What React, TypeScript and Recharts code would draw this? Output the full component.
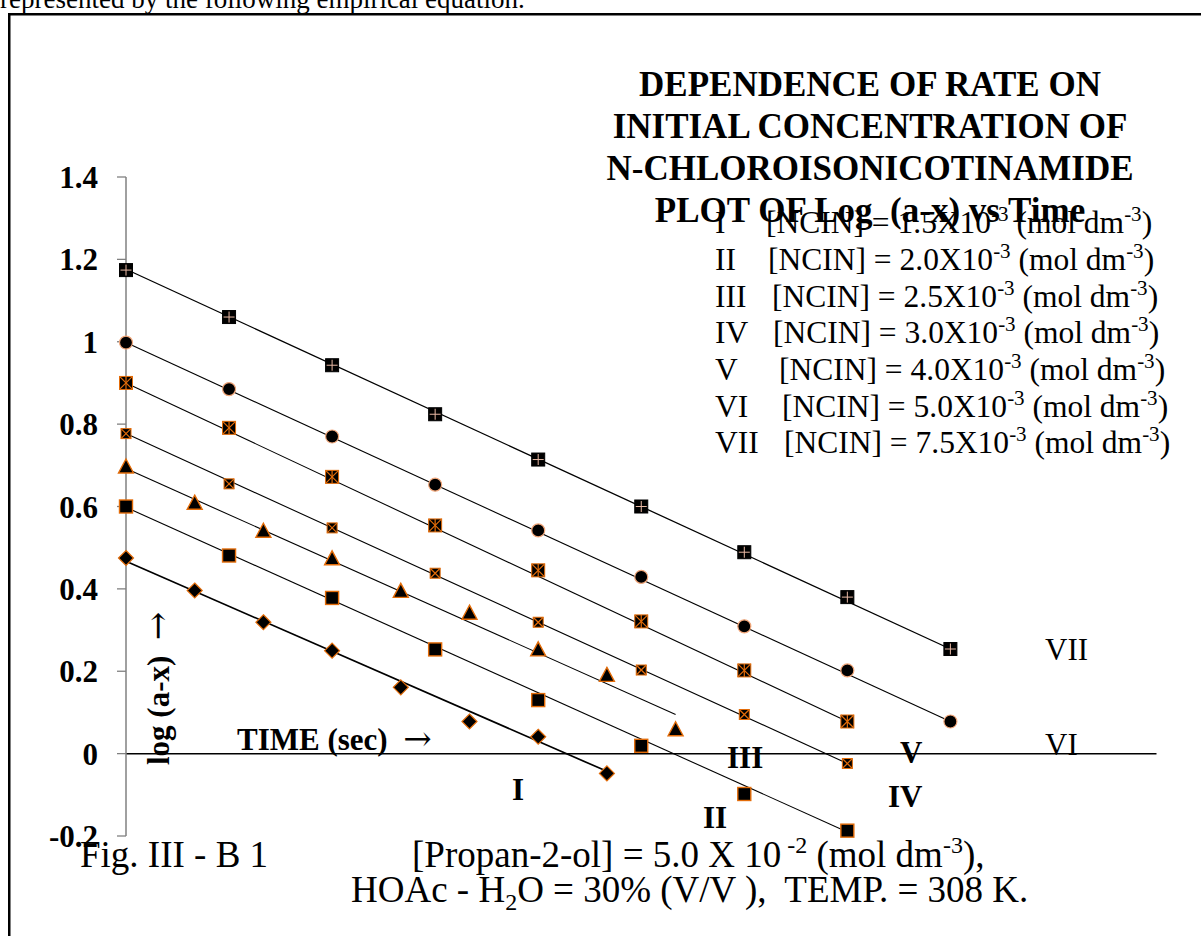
import React from 'react';
import { ComposedChart, XAxis, YAxis, Scatter, ReferenceLine } from 'recharts';

// ---------- data ----------
const TIME_I = [0, 600, 1200, 1800, 2400, 3000, 3600, 4200];
const LOG_I = [0.475, 0.396, 0.319, 0.25, 0.161, 0.078, 0.041, -0.048];
const TIME_II = [0, 900, 1800, 2700, 3600, 4500, 5400, 6300];
const LOG_II = [0.6, 0.481, 0.378, 0.253, 0.13, 0.019, -0.098, -0.187];
const TIME_III = [0, 600, 1200, 1800, 2400, 3000, 3600, 4200, 4800];
const LOG_III = [0.696, 0.608, 0.54, 0.473, 0.394, 0.341, 0.252, 0.19, 0.058];
const TIME_IV = [0, 900, 1800, 2700, 3600, 4500, 5400, 6300];
const LOG_IV = [0.777, 0.655, 0.548, 0.438, 0.319, 0.203, 0.095, -0.024];
const TIME_V = [0, 900, 1800, 2700, 3600, 4500, 5400, 6300];
const LOG_V = [0.9, 0.791, 0.672, 0.554, 0.445, 0.321, 0.202, 0.078];
const TIME_VI = [0, 900, 1800, 2700, 3600, 4500, 5400, 6300, 7200];
const LOG_VI = [0.998, 0.885, 0.77, 0.653, 0.542, 0.429, 0.309, 0.202, 0.078];
const TIME_VII = [0, 900, 1800, 2700, 3600, 4500, 5400, 6300, 7200];
const LOG_VII = [1.174, 1.06, 0.943, 0.824, 0.714, 0.6, 0.489, 0.38, 0.254];

// fitted straight lines (end points)
const FIT_TIME_I = [0, 4200];
const FIT_LOG_I = [0.467, -0.043];
const FIT_TIME_II = [0, 6300];
const FIT_LOG_II = [0.598, -0.19];
const FIT_TIME_III = [0, 4800];
const FIT_LOG_III = [0.692, 0.095];
const FIT_TIME_IV = [0, 6300];
const FIT_LOG_IV = [0.777, -0.024];
const FIT_TIME_V = [0, 6300];
const FIT_LOG_V = [0.9, 0.078];
const FIT_TIME_VI = [0, 7200];
const FIT_LOG_VI = [0.998, 0.078];
const FIT_TIME_VII = [0, 7200];
const FIT_LOG_VII = [1.176, 0.254];

const X_TICKS = [0, 2000, 4000, 6000, 8000];
const X_TICK_LABELS = ['0', '2000', '4000', '6000', '8000'];
const Y_TICKS = [-0.2, 0, 0.2, 0.4, 0.6, 0.8, 1, 1.2, 1.4];
const Y_TICK_LABELS = ['-0.2', '0', '0.2', '0.4', '0.6', '0.8', '1', '1.2', '1.4'];

const SERIES_NAMES = ['I', 'II', 'III', 'IV', 'V', 'VI', 'VII'];
const NCIN_CONC = ['1.5', '2.0', '2.5', '3.0', '4.0', '5.0', '7.5'];

const TITLE_LINES = [
  'DEPENDENCE OF RATE ON',
  'INITIAL CONCENTRATION OF',
  'N-CHLOROISONICOTINAMIDE',
  'PLOT OF Log\u00A0 (a-x) vs Time',
];

// ---------- layout / style ----------
const W = 1201;
const H = 936;
const PLOT_LEFT = 126;
const PLOT_RIGHT = 1156.5;
const PLOT_TOP = 177;
const PLOT_BOTTOM = 836;
const Y_MIN = -0.2;
const Y_MAX = 1.4;
const ZERO_Y = PLOT_TOP + ((Y_MAX - 0) / (Y_MAX - Y_MIN)) * (PLOT_BOTTOM - PLOT_TOP);
const FONT = "'Liberation Serif', 'Times New Roman', Times, serif";
const ARROW_FONT = "'DejaVu Serif', 'DejaVu Sans', serif";
const ORANGE = '#E36C09';
const LIGHT = '#F2A77A';
const AXIS_GRAY = '#808080';

const rows = (ts: number[], vs: number[]) => ts.map((t, i) => ({ t, v: vs[i] }));

// ---------- marker shapes ----------
const Diamond = (p: any) => {
  const { cx, cy } = p;
  const r = 7.5;
  return <polygon points={`${cx},${cy - r} ${cx + r},${cy} ${cx},${cy + r} ${cx - r},${cy}`} fill="#000" stroke={ORANGE} strokeWidth={1.2} />;
};
const SquareM = (p: any) => {
  const { cx, cy } = p;
  const s = 13;
  return <rect x={cx - s / 2} y={cy - s / 2} width={s} height={s} fill="#000" stroke={ORANGE} strokeWidth={1.4} />;
};
const Triangle = (p: any) => {
  const { cx, cy } = p;
  return <polygon points={`${cx},${cy - 8} ${cx + 7.5},${cy + 6} ${cx - 7.5},${cy + 6}`} fill="#000" stroke={ORANGE} strokeWidth={1.4} />;
};
const XSquare = (p: any) => {
  const { cx, cy } = p;
  const s = 10;
  const h = s / 2;
  return (
    <g>
      <rect x={cx - h} y={cy - h} width={s} height={s} fill="#000" stroke={ORANGE} strokeWidth={1} />
      <line x1={cx - h} y1={cy - h} x2={cx + h} y2={cy + h} stroke={ORANGE} strokeWidth={1.2} />
      <line x1={cx - h} y1={cy + h} x2={cx + h} y2={cy - h} stroke={ORANGE} strokeWidth={1.2} />
    </g>
  );
};
const StarSquare = (p: any) => {
  const { cx, cy } = p;
  const s = 13;
  const h = s / 2;
  return (
    <g>
      <rect x={cx - h} y={cy - h} width={s} height={s} fill="#000" stroke={ORANGE} strokeWidth={1} />
      <line x1={cx - h} y1={cy - h} x2={cx + h} y2={cy + h} stroke={ORANGE} strokeWidth={1.2} />
      <line x1={cx - h} y1={cy + h} x2={cx + h} y2={cy - h} stroke={ORANGE} strokeWidth={1.2} />
      <line x1={cx} y1={cy - h} x2={cx} y2={cy + h} stroke={ORANGE} strokeWidth={1.2} />
    </g>
  );
};
const Circle = (p: any) => {
  const { cx, cy } = p;
  return <circle cx={cx} cy={cy} r={6.5} fill="#000" stroke={LIGHT} strokeWidth={1.2} />;
};
const PlusSquare = (p: any) => {
  const { cx, cy } = p;
  const s = 13;
  const h = s / 2;
  return (
    <g>
      <rect x={cx - h} y={cy - h} width={s} height={s} fill="#000" stroke="#000" strokeWidth={1} />
      <line x1={cx} y1={cy - h + 1} x2={cx} y2={cy + h - 1} stroke="#E9B9A4" strokeWidth={1} />
      <line x1={cx - h + 1} y1={cy} x2={cx + h - 1} y2={cy} stroke="#E9B9A4" strokeWidth={1} />
    </g>
  );
};
const NoShape = () => <g />;

const XTick = (p: any) => {
  const { x, index } = p;
  return (
    <g>
      {index > 0 && <line x1={x} x2={x} y1={ZERO_Y} y2={ZERO_Y + 9} stroke={AXIS_GRAY} strokeWidth={1.3} />}
      <text x={x} y={ZERO_Y + 56} textAnchor="middle" fontFamily={FONT} fontWeight="bold" fontSize={31} fill="#000">
        {X_TICK_LABELS[index]}
      </text>
    </g>
  );
};

const SERIES = [
  { pts: rows(TIME_I, LOG_I), fit: rows(FIT_TIME_I, FIT_LOG_I), shape: Diamond, fw: 1.7 },
  { pts: rows(TIME_II, LOG_II), fit: rows(FIT_TIME_II, FIT_LOG_II), shape: SquareM, fw: 1.1 },
  { pts: rows(TIME_III, LOG_III), fit: rows(FIT_TIME_III, FIT_LOG_III), shape: Triangle, fw: 1.1 },
  { pts: rows(TIME_IV, LOG_IV), fit: rows(FIT_TIME_IV, FIT_LOG_IV), shape: XSquare, fw: 1.1 },
  { pts: rows(TIME_V, LOG_V), fit: rows(FIT_TIME_V, FIT_LOG_V), shape: StarSquare, fw: 1.1 },
  { pts: rows(TIME_VI, LOG_VI), fit: rows(FIT_TIME_VI, FIT_LOG_VI), shape: Circle, fw: 1.1 },
  { pts: rows(TIME_VII, LOG_VII), fit: rows(FIT_TIME_VII, FIT_LOG_VII), shape: PlusSquare, fw: 1.3 },
];

// text placements (layout only)
const LEGEND_ROMAN_X = 715;
const LEGEND_TEXT_X = [766, 768, 772, 773, 779, 782, 784];
const LEGEND_BASE = [233, 270, 307, 343, 380, 417, 453];
const SERIES_LABEL_POS = [
  { x: 512, y: 800, bold: true },
  { x: 703, y: 828, bold: true },
  { x: 727, y: 768, bold: true },
  { x: 888, y: 807, bold: true },
  { x: 900, y: 763, bold: true },
  { x: 1045, y: 755, bold: false },
  { x: 1045, y: 660, bold: false },
];
const TITLE_BASE = [96, 138, 180, 222];
const TITLE_CX = 870;

export default function App() {
  return (
    <div style={{ position: 'absolute', left: 0, top: 0, width: W, height: H, overflow: 'hidden', background: '#fff' }}>
      <div style={{ position: 'absolute', left: 0, top: 0 }}>
        <ComposedChart
          width={W}
          height={H}
          margin={{ top: PLOT_TOP, right: W - PLOT_RIGHT, bottom: H - PLOT_BOTTOM, left: PLOT_LEFT - 60 }}
        >
          <XAxis
            type="number"
            dataKey="t"
            domain={[0, 9000]}
            ticks={X_TICKS}
            interval={0}
            axisLine={false}
            tickLine={false}
            height={0}
            tick={<XTick />}
          />
          <YAxis
            type="number"
            dataKey="v"
            domain={[Y_MIN, Y_MAX]}
            ticks={Y_TICKS}
            interval={0}
            width={60}
            axisLine={{ stroke: AXIS_GRAY, strokeWidth: 1.5 }}
            tickLine={{ stroke: AXIS_GRAY, strokeWidth: 1.3 }}
            tickSize={9}
            tickMargin={19}
            tickFormatter={(v: number, i: number) => Y_TICK_LABELS[i]}
            tick={{ fill: '#000', fontFamily: FONT, fontWeight: 'bold', fontSize: 31 }}
          />
          <ReferenceLine y={0} stroke="#000" strokeWidth={1.5} />
          {SERIES.map((s, i) => (
            <Scatter
              key={'fit' + i}
              data={s.fit}
              dataKey="v"
              line={{ stroke: '#000', strokeWidth: s.fw }}
              shape={NoShape}
              isAnimationActive={false}
            />
          ))}
          {SERIES.map((s, i) => (
            <Scatter key={'pts' + i} data={s.pts} dataKey="v" shape={s.shape} isAnimationActive={false} />
          ))}
        </ComposedChart>
      </div>
      <svg
        width={W}
        height={H}
        style={{ position: 'absolute', left: 0, top: 0, pointerEvents: 'none' }}
        fontFamily={FONT}
      >
        <text x={0} y={8} fontSize={27} fill="#000">represented by the following empirical equation.</text>
        <rect x={9.25} y={14.25} width={1400} height={1000} fill="none" stroke="#000" strokeWidth={2.5} />

        {TITLE_LINES.map((t, i) => (
          <text key={t} x={TITLE_CX} y={TITLE_BASE[i]} textAnchor="middle" fontSize={35} fontWeight="bold" fill="#000">
            {t}
          </text>
        ))}

        {SERIES_NAMES.map((n, i) => (
          <g key={'lg' + n}>
            <text x={LEGEND_ROMAN_X} y={LEGEND_BASE[i]} fontSize={31.5} fill="#000">{n}</text>
            <text x={LEGEND_TEXT_X[i]} y={LEGEND_BASE[i]} fontSize={31.5} fill="#000">
              [NCIN] = {NCIN_CONC[i]}X10
              <tspan dy={-12} fontSize={21}>-3</tspan>
              <tspan dy={12}> (mol dm</tspan>
              <tspan dy={-12} fontSize={21}>-3</tspan>
              <tspan dy={12}>)</tspan>
            </text>
          </g>
        ))}

        {SERIES_NAMES.map((n, i) => (
          <text
            key={'sl' + n}
            x={SERIES_LABEL_POS[i].x}
            y={SERIES_LABEL_POS[i].y}
            fontSize={31}
            fontWeight={SERIES_LABEL_POS[i].bold ? 'bold' : 'normal'}
            fill="#000"
          >
            {n}
          </text>
        ))}

        <text x={237} y={750} fontSize={31} fontWeight="bold" fill="#000" xmlSpace="preserve">
          TIME (sec)  <tspan fontWeight="normal" fontFamily={ARROW_FONT} fontSize={34}>→</tspan>
        </text>
        <text
          transform="translate(169,765) rotate(-90)"
          x={0}
          y={0}
          fontSize={31}
          fontWeight="bold"
          fill="#000"
          xmlSpace="preserve"
        >
          log (a-x)  <tspan fontWeight="normal" fontFamily={ARROW_FONT} fontSize={34}>→</tspan>
        </text>

        <text x={80} y={867} fontSize={37} fill="#000">Fig. III - B 1</text>
        <text x={412} y={867} fontSize={37} fill="#000">
          [Propan-2-ol] = 5.0 X 10
          <tspan dy={-14} fontSize={24}> -2</tspan>
          <tspan dy={14}> (mol dm</tspan>
          <tspan dy={-14} fontSize={24}>-3</tspan>
          <tspan dy={14}>),</tspan>
        </text>
        <text x={351} y={902} fontSize={37} fill="#000" xmlSpace="preserve">
          HOAc - H<tspan dy={8} fontSize={24}>2</tspan><tspan dy={-8}>O = 30% (V/V ),  TEMP. = 308 K.</tspan>
        </text>
      </svg>
    </div>
  );
}
